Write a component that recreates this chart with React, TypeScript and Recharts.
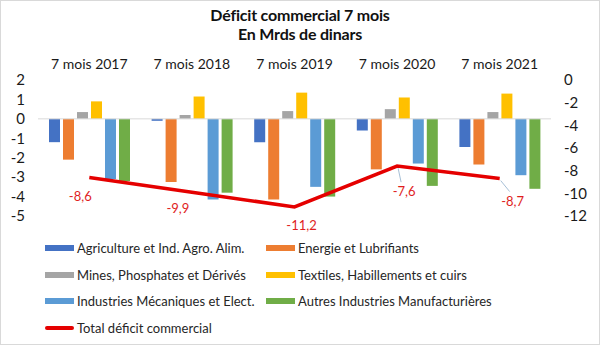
import React from 'react';
import { ComposedChart, Bar, Line, XAxis, YAxis, ReferenceLine, Legend, LabelList } from 'recharts';

const periods = ['7 mois 2017', '7 mois 2018', '7 mois 2019', '7 mois 2020', '7 mois 2021'];
const agriculture = [-1.2, -0.1, -1.2, -0.6, -1.45];
const energie = [-2.1, -3.25, -4.15, -2.6, -2.35];
const mines = [0.35, 0.2, 0.4, 0.5, 0.35];
const textiles = [0.9, 1.15, 1.35, 1.1, 1.3];
const mecaniques = [-3.1, -4.15, -3.5, -2.3, -2.9];
const autres = [-3.2, -3.8, -4.0, -3.45, -3.6];
const total = [-8.6, -9.9, -11.2, -7.6, -8.7];
const leftTicks = [2, 1, 0, -1, -2, -3, -4, -5];
const rightTicks = [0, -2, -4, -6, -8, -10, -12];
const seriesNames = [
    'Agriculture et Ind. Agro. Alim.',
    'Energie et Lubrifiants',
    'Mines, Phosphates et Dérivés',
    'Textiles, Habillements et cuirs',
    'Industries Mécaniques et Elect.',
    'Autres Industries Manufacturières',
    'Total déficit commercial',
];

const data = periods.map((name, i) => ({
    name,
    agriculture: agriculture[i],
    energie: energie[i],
    mines: mines[i],
    textiles: textiles[i],
    mecaniques: mecaniques[i],
    autres: autres[i],
    total: total[i],
}));

// where each total label sits relative to its point (style only)
const labelShift = [
    { dx: -9, dy: 19, leader: false },
    { dx: -14, dy: 16, leader: false },
    { dx: 7, dy: 18, leader: false },
    { dx: 7, dy: 25, leader: true },
    { dx: 13, dy: 22, leader: true },
];

const FONT = 'Lato, "Open Sans", sans-serif';

const TotalLabel = (props: any) => {
    const { x, y, value, index } = props;
    const s = labelShift[index] || { dx: 0, dy: 18, leader: false };
    const lx = x + s.dx;
    const ly = y + s.dy;
    return (
        <g>
            {s.leader && (
                <line x1={x + 1} y1={y + 2} x2={lx - 3} y2={ly - 9} stroke="#a6bfd6" strokeWidth={1} />
            )}
            <text x={lx} y={ly} textAnchor="middle" dominantBaseline="central" fill="#e01e1e" fontSize={13} fontFamily={FONT}>
                {String(value).replace('.', ',')}
            </text>
        </g>
    );
};

const LegendBox = (props: any) => {
    const items = [...(props.payload || [])].sort(
        (a: any, b: any) => seriesNames.indexOf(a.value) - seriesNames.indexOf(b.value)
    );
    return (
        <div style={{ position: 'relative', height: 128, fontFamily: FONT, fontSize: 13, color: '#262626' }}>
            {items.map((item: any, i: number) => {
                const col = i % 2;
                const row = Math.floor(i / 2);
                const isLine = item.type === 'line';
                return (
                    <div
                        key={item.value}
                        style={{
                            position: 'absolute',
                            left: 44 + col * 221,
                            top: 23 + row * 26.5,
                            height: 18,
                            display: 'flex',
                            alignItems: 'center',
                            whiteSpace: 'nowrap',
                        }}
                    >
                        <span
                            style={{
                                display: 'inline-block',
                                width: 29,
                                height: isLine ? 4 : 6,
                                background: item.color,
                                marginRight: 3,
                                borderRadius: isLine ? 2 : 0,
                            }}
                        />
                        {item.value}
                    </div>
                );
            })}
        </div>
    );
};

export default function App() {
    return (
        <div style={{ position: 'absolute', left: 0, top: 0, width: 598, height: 343, border: '1px solid #d9d9d9', background: '#fff', overflow: 'hidden' }}>
            <div style={{ position: 'absolute', left: 0, top: 4, width: 598, textAlign: 'center', fontFamily: FONT, fontWeight: 700, fontSize: 16, lineHeight: '19px', color: '#111', letterSpacing: -0.2 }}>
                <div>Déficit commercial 7 mois</div>
                <div>En Mrds de dinars</div>
            </div>
            <ComposedChart
                width={598}
                height={343}
                data={data}
                margin={{ top: 49, right: 0, bottom: 0, left: -1 }}
                barCategoryGap={11}
                barGap={3}
            >
                <XAxis
                    dataKey="name"
                    orientation="top"
                    height={30}
                    axisLine={false}
                    tickLine={false}
                    tickMargin={5}
                    tick={{ fontSize: 14, fill: '#1a1a1a', fontFamily: FONT }}
                    interval={0}
                />
                <YAxis
                    yAxisId="left"
                    orientation="left"
                    width={38}
                    domain={[-5, 2]}
                    ticks={leftTicks}
                    interval={0}
                    axisLine={false}
                    tickLine={false}
                    tickMargin={7}
                    tick={{ fontSize: 15, fill: '#1a1a1a', fontFamily: FONT }}
                    allowDataOverflow
                />
                <YAxis
                    yAxisId="right"
                    orientation="right"
                    width={48}
                    domain={[-12, 0]}
                    ticks={rightTicks}
                    interval={0}
                    axisLine={false}
                    tickLine={false}
                    tickMargin={7}
                    tick={{ fontSize: 15, fill: '#1a1a1a', fontFamily: FONT, textAnchor: 'start' }}
                    allowDataOverflow
                />
                <ReferenceLine yAxisId="left" y={0} stroke="#d9d9d9" strokeWidth={1} />
                <Bar yAxisId="left" dataKey="agriculture" name={seriesNames[0]} fill="#4472c4" isAnimationActive={false} />
                <Bar yAxisId="left" dataKey="energie" name={seriesNames[1]} fill="#ed7d31" isAnimationActive={false} />
                <Bar yAxisId="left" dataKey="mines" name={seriesNames[2]} fill="#a5a5a5" isAnimationActive={false} />
                <Bar yAxisId="left" dataKey="textiles" name={seriesNames[3]} fill="#ffc000" isAnimationActive={false} />
                <Bar yAxisId="left" dataKey="mecaniques" name={seriesNames[4]} fill="#5b9bd5" isAnimationActive={false} />
                <Bar yAxisId="left" dataKey="autres" name={seriesNames[5]} fill="#70ad47" isAnimationActive={false} />
                <Line
                    yAxisId="right"
                    type="linear"
                    dataKey="total"
                    name={seriesNames[6]}
                    stroke="#e50000"
                    strokeWidth={3.5}
                    dot={false}
                    activeDot={false}
                    legendType="line"
                    isAnimationActive={false}
                >
                    <LabelList dataKey="total" content={TotalLabel} />
                </Line>
                <Legend
                    verticalAlign="bottom"
                    height={128}
                    wrapperStyle={{ left: 0, width: 598, bottom: 0 }}
                    content={LegendBox}
                />
            </ComposedChart>
        </div>
    );
}
